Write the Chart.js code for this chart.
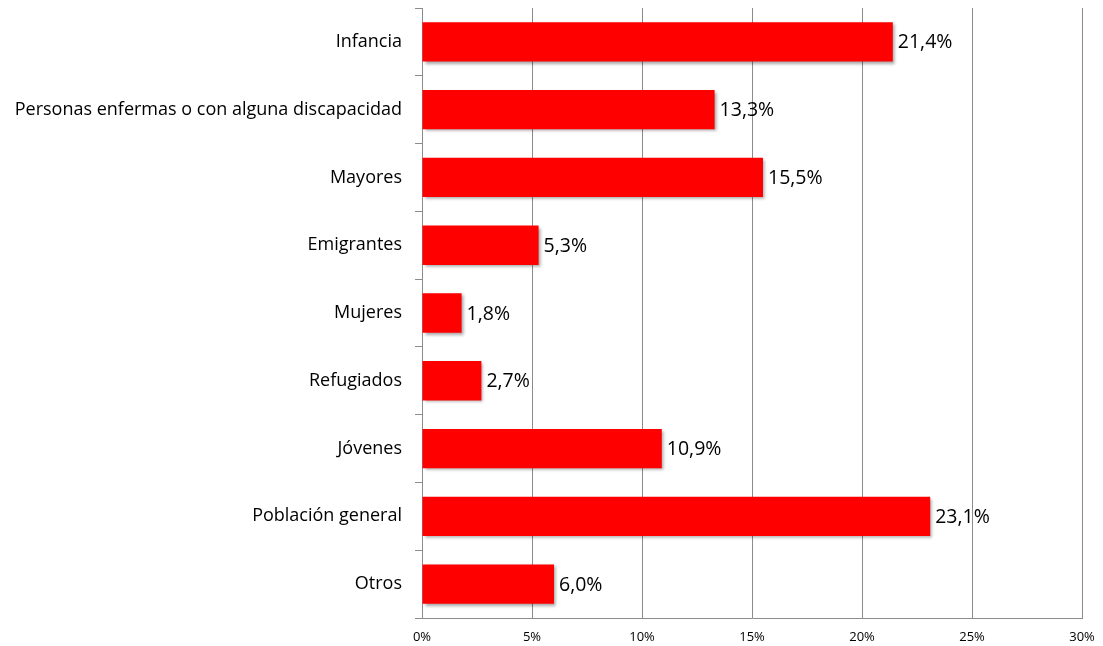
<!DOCTYPE html>
<html>
<head>
<meta charset="utf-8">
<script src="https://cdn.jsdelivr.net/npm/chart.js@4/dist/chart.umd.min.js"></script>
<style>
html,body{margin:0;padding:0;background:#fff;}
#wrap{width:1103px;height:646px;}
</style>
</head>
<body>
<div id="wrap"><canvas id="c" width="1103" height="646"></canvas></div>
<script>
const categories = ["Infancia","Personas enfermas o con alguna discapacidad","Mayores","Emigrantes","Mujeres","Refugiados","Jóvenes","Población general","Otros"];
const values = [21.4,13.3,15.5,5.3,1.8,2.7,10.9,23.1,6.0];
const xTicks = [0,5,10,15,20,25,30];

const FONT = "'Open Sans', sans-serif";

const shadowPlugin = {
  id:'shadow',
  beforeDatasetsDraw(chart){
    const ctx = chart.ctx;
    ctx.save();
    ctx.shadowColor='rgba(0,0,0,0.35)';
    ctx.shadowBlur=3;
    ctx.shadowOffsetX=2;
    ctx.shadowOffsetY=2;
  },
  afterDatasetsDraw(chart){
    chart.ctx.restore();
    const ctx = chart.ctx;
    const meta = chart.getDatasetMeta(0);
    ctx.save();
    ctx.font = "19.5px " + FONT;
    ctx.fillStyle = '#000';
    ctx.textAlign='left';
    ctx.textBaseline='middle';
    meta.data.forEach((bar,i)=>{
      const v = chart.data.datasets[0].data[i];
      ctx.fillText(v.toFixed(1).replace('.',',')+'%', bar.x+5, bar.y+1);
    });
    ctx.restore();
  }
};

new Chart(document.getElementById('c'),{
  type:'bar',
  data:{
    labels:categories,
    datasets:[{
      data:values,
      backgroundColor:'#FF0000',
      borderWidth:0,
      categoryPercentage:1,
      barPercentage:0.58
    }]
  },
  options:{
    indexAxis:'y',
    responsive:false,
    animation:false,
    devicePixelRatio:1,
    layout:{padding:{top:8,right:21,left:0,bottom:0}},
    plugins:{legend:{display:false},tooltip:{enabled:false}},
    scales:{
      x:{
        min:0,max:30,
        afterBuildTicks(scale){ scale.ticks = xTicks.map(v=>({value:v})); },
        afterFit(scale){ scale.height = 28; scale.paddingLeft = 0; scale.paddingRight = 0; },
        grid:{color:'#8c8c8c',lineWidth:1,drawTicks:false},
        border:{color:'#8c8c8c'},
        ticks:{padding:11,color:'#000',font:{family:FONT,size:13},callback:v=>v+'%'}
      },
      y:{
        afterFit(scale){ scale.width = 422; scale.paddingTop = 0; scale.paddingBottom = 0; },
        grid:{drawOnChartArea:false,color:'#8c8c8c',tickLength:7},
        border:{color:'#8c8c8c'},
        ticks:{padding:13,color:'#000',font:{family:FONT,size:18}}
      }
    }
  },
  plugins:[shadowPlugin]
});
</script>
</body>
</html>
